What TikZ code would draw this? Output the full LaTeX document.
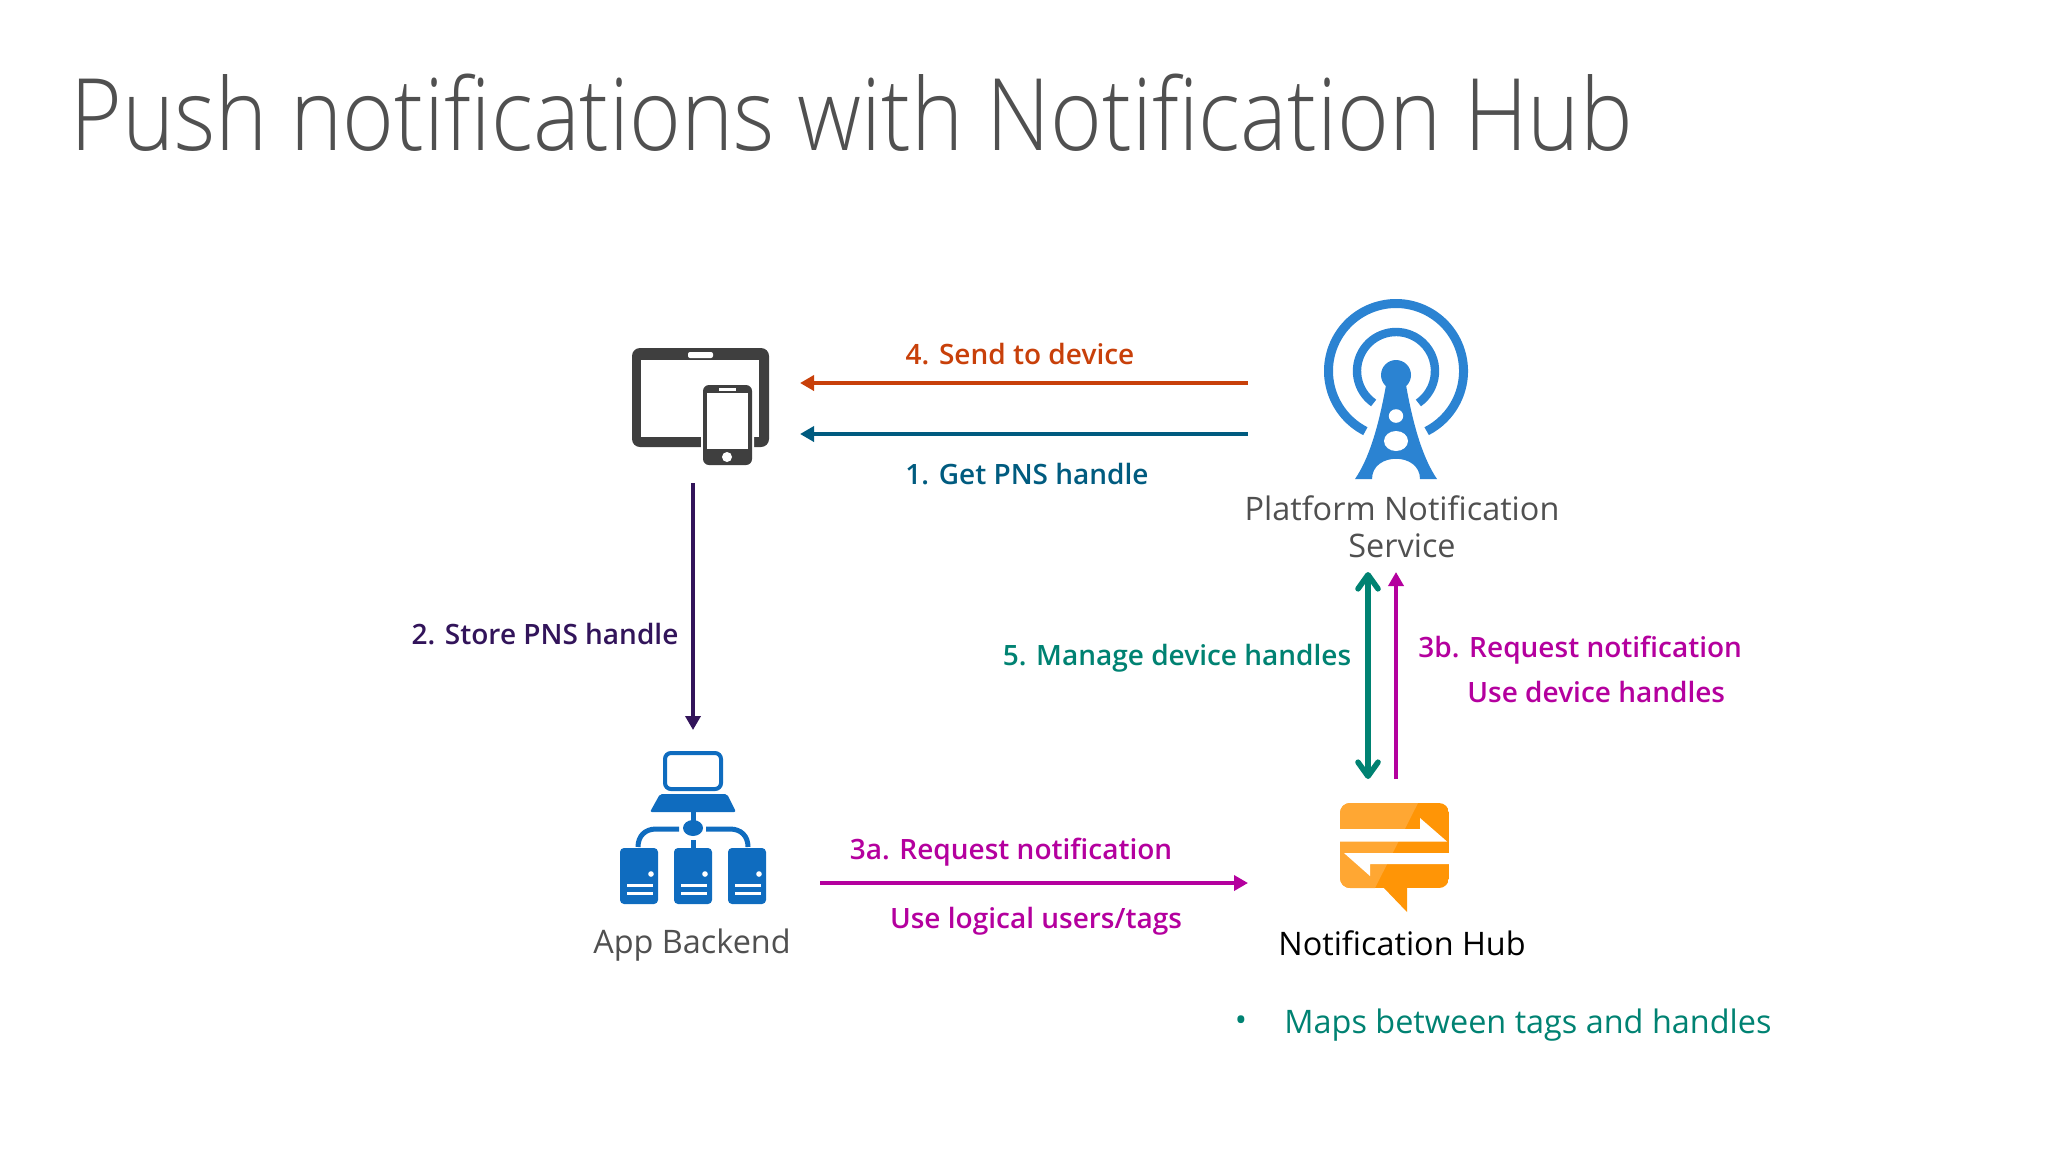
\documentclass[tikz,border=0pt]{standalone}
\usepackage{fontspec}
\setmainfont{Open Sans}
\newfontfamily\titlefont[FakeStretch=0.885]{Open Sans Light}
\newfontfamily\labelfont{Open Sans Semibold}
\usepackage{tikz}
\usetikzlibrary{arrows.meta,positioning}
\usetikzlibrary{calc}
\definecolor{slidegray}{HTML}{505050}
\definecolor{iconblack}{HTML}{3F3F3F}
\definecolor{towerblue}{HTML}{2B83D2}
\definecolor{backendblue}{HTML}{0F6CBF}
\definecolor{hubdark}{HTML}{FF9506}
\definecolor{hublight}{HTML}{FFA733}
\definecolor{sendorange}{HTML}{C8400A}
\definecolor{getteal}{HTML}{005B7F}
\definecolor{storepurple}{HTML}{32145A}
\definecolor{managegreen}{HTML}{008272}
\definecolor{requestmagenta}{HTML}{B4009E}
\tikzset{
  flowlabel/.style={font=\labelfont\fontsize{14}{16}\selectfont},
  iconlabel/.style={font=\fontsize{16.2}{18.5}\selectfont, text=slidegray, align=center},
  flowarrow/.style={line width=2.2pt, -{Triangle[length=7pt,width=7.5pt]}},
}
\begin{document}
\begin{tikzpicture}[x=0.5pt,y=-0.5pt]
    \useasboundingbox (0,0) rectangle (2048,1152);
    \node[anchor=base west, inner sep=0pt, text=slidegray, font=\titlefont\fontsize{50}{60}\selectfont] (title) at (70,150) {Push notifications with Notification Hub}; %
    % device icon
    \fill[iconblack, rounded corners=4pt] (632,348) rectangle (769,447); %
    \fill[white] (641,360) rectangle (759,437); %
    \fill[white, rounded corners=1pt] (688,352) rectangle (713,358); %
    \fill[white, rounded corners=3pt] (701,383) rectangle (754,467); %
    \fill[iconblack, rounded corners=3pt] (703,385) rectangle (752,465); %
    \fill[white] (707,393) rectangle (748,449); %
    \fill[white] (719,388) rectangle (736,391); %
    \fill[white] (727,457) circle (2.5pt); %
    % tower icon
    \coordinate (towertop) at (1396,371); %
    \draw[towerblue, line width=4.5pt] ([shift={(243:33.75pt)}]towertop) arc[start angle=243, end angle=-63, radius=33.75pt]; %
    \draw[towerblue, line width=4.2pt] ([shift={(235:19.5pt)}]towertop) arc[start angle=235, end angle=-55, radius=19.5pt]; %
    \fill[towerblue] (1396,375) circle (7.5pt); %
    \fill[towerblue] (1386,385) .. controls (1378,430) and (1368,460) .. (1355,479) -- (1372,479) .. controls (1372,452) and (1420,452) .. (1420,479) -- (1437,479) .. controls (1424,460) and (1414,430) .. (1406,385) -- cycle; %
    \fill[white] (1396,416) ellipse (3.6pt and 3.4pt); %
    \fill[white] (1396,441) ellipse (6pt and 5pt); %
    % backend icon
    \draw[backendblue, line width=2pt, rounded corners=3pt] (665,753) rectangle (721,789); %
    \fill[backendblue, rounded corners=1pt] (660,794) -- (727,794) -- (736,812) -- (650,812) -- cycle; %
    \draw[backendblue, line width=2.5pt] (693,812) -- (693,825); %
    \fill[backendblue] (693,828) ellipse (5pt and 4pt); %
    \draw[backendblue, line width=2.5pt] (679,829) -- (656,829) .. controls (645,829) and (638,836) .. (638,847); %
    \draw[backendblue, line width=2.5pt] (706,829) -- (730,829) .. controls (741,829) and (748,836) .. (748,847); %
    \draw[backendblue, line width=2.5pt] (693,840) -- (693,848); %
    \foreach \sx in {620,674,728}{
      \fill[backendblue, rounded corners=2pt] (\sx,848) rectangle ++(38,56); %
      \fill[white] ($(\sx,874)+(31,0)$) circle (1.4pt); %
      \fill[white] (\sx+7,883.5) rectangle ++(26,3); %
      \fill[white] (\sx+7,891.5) rectangle ++(26,3); %
    }
    % hub icon
    \begin{scope}
      \clip[rounded corners=5pt] (1340,803) rectangle (1449,888); %
      \fill[hubdark] (1340,803) rectangle (1449,888); %
      \fill[hublight] (1340,803) -- (1418,803) -- (1375,888) -- (1340,888) -- cycle; %
    \end{scope}
    \fill[hubdark] (1383,887) -- (1407,912) -- (1407,887) -- cycle; %
    \fill[white] (1339,829) -- (1420,829) -- (1420,818) -- (1447,841.5) -- (1339,841.5) -- cycle; %
    \fill[white] (1344,853) -- (1450,853) -- (1450,864) -- (1370,864) -- (1370,876) -- cycle; %
    % connector ends
    \coordinate (devsend) at (800,383); %
    \coordinate (pnssend) at (1248,383); %
    \coordinate (devget) at (800,434); %
    \coordinate (pnsget) at (1248,434); %
    \coordinate (devstore) at (693,483); %
    \coordinate (appstore) at (693,730); %
    \coordinate (appreq) at (820,883); %
    \coordinate (hubreq) at (1248,883); %
    \coordinate (pnsmanage) at (1368,572); %
    \coordinate (hubmanage) at (1368,779); %
    \coordinate (pnsreq) at (1396,572); %
    \coordinate (hubpns) at (1396,779); %
    \draw[flowarrow, sendorange] (pnssend) -- (devsend); %
    \draw[flowarrow, getteal] (pnsget) -- (devget); %
    \draw[flowarrow, storepurple, line width=2pt] (devstore) -- (appstore); %
    \draw[flowarrow, requestmagenta] (appreq) -- (hubreq); %
    \draw[managegreen, line width=2.8pt, {Straight Barb[round, length=7pt, width=10pt, line width=2.8pt]}-{Straight Barb[round, length=7pt, width=10pt, line width=2.8pt]}] (pnsmanage) -- (hubmanage); %
    \draw[flowarrow, requestmagenta] (hubpns) -- (pnsreq); %
    % labels
    \node[flowlabel, text=sendorange] (sendlbl) at (1020,354) {4. Send to device}; %
    \node[flowlabel, text=getteal] (getlbl) at (1027,474) {1. Get PNS handle}; %
    \node[flowlabel, text=storepurple] (storelbl) at (545,634) {2. Store PNS handle}; %
    \node[flowlabel, text=managegreen] (managelbl) at (1177,658) {5. Manage device handles}; %
    \node[flowlabel, text=requestmagenta, anchor=west, inner sep=0pt] (pushlbl) at (1418,650) {3b. Request notification}; %
    \node[flowlabel, text=requestmagenta, anchor=west, inner sep=0pt] (handleslbl) at (1467,692) {Use device handles}; %
    \node[flowlabel, text=requestmagenta] (reqlbl) at (1011,852) {3a. Request notification}; %
    \node[flowlabel, text=requestmagenta] (taglbl) at (1036,921) {Use logical users/tags}; %
    \node[iconlabel] (pnslbl) at (1402,527) {Platform Notification\\Service}; %
    \node[iconlabel] (applbl) at (692,945) {App Backend}; %
    \node[iconlabel, text=black] (hublbl) at (1402,943) {Notification Hub}; %
    \node[iconlabel, text=managegreen, inner sep=0pt] (bulletlbl) at (1241,1024) {•}; %
    \node[iconlabel, text=managegreen, anchor=west, inner sep=0pt] (mapslbl) at (1284,1025) {Maps between tags and handles}; %
  \end{tikzpicture}
\end{document}
